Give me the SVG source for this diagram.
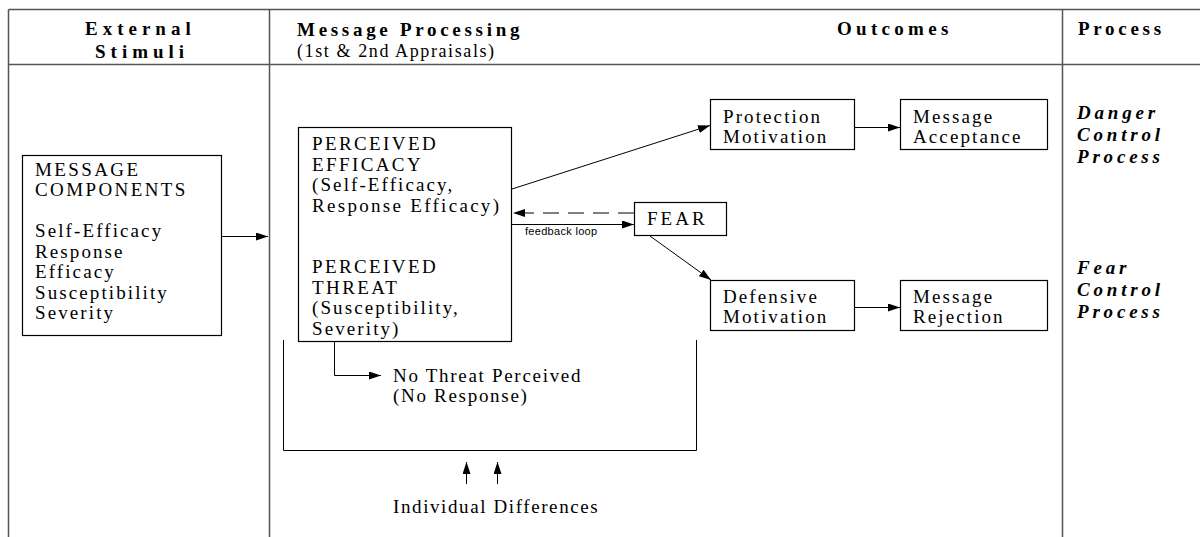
<svg xmlns="http://www.w3.org/2000/svg" width="1200" height="537" viewBox="0 0 1200 537">
<style>
text{font-family:"Liberation Serif","Times New Roman",serif;fill:#000}
.h{font-weight:bold;font-size:19px;letter-spacing:4px}
.sub{font-size:18px;letter-spacing:1.6px}
.t{font-size:19px;letter-spacing:2.1px}
.p{font-weight:bold;font-style:italic;font-size:19px;letter-spacing:3.8px}
.s{font-family:"Liberation Sans",Arial,sans-serif;font-size:11px;letter-spacing:0.3px}
.box{fill:#fff;stroke:#000;stroke-width:1.2}
.frame{stroke:#555;stroke-width:1.5;fill:none}
.c{stroke:#000;stroke-width:1;fill:none}
</style>
<defs>
<marker id="ah" viewBox="0 0 12 8" refX="12" refY="4" markerWidth="12" markerHeight="8" markerUnits="userSpaceOnUse" orient="auto">
<path d="M0,0 L12,4 L0,8 z" fill="#000"/>
</marker>
</defs>
<rect width="1200" height="537" fill="#fff"/>
<g id="frame" class="frame">
<line x1="8.5" y1="9.5" x2="1200" y2="9.5"/>
<line x1="8.5" y1="64.5" x2="1200" y2="64.5"/>
<line x1="8.5" y1="9.5" x2="8.5" y2="537"/>
<line x1="269.5" y1="9.5" x2="269.5" y2="537"/>
<line x1="1062.5" y1="9.5" x2="1062.5" y2="537"/>
</g>
<g id="headers">
<text class="h" x="85" y="35" style="letter-spacing:5px">External</text>
<text class="h" x="95" y="57.5" style="letter-spacing:5px">Stimuli</text>
<text class="h" x="297" y="35.5" style="letter-spacing:3.7px">Message Processing</text>
<text class="sub" x="297" y="56.5">(1st &amp; 2nd Appraisals)</text>
<text class="h" x="837" y="35" style="letter-spacing:4.3px">Outcomes</text>
<text class="h" x="1078" y="35" style="letter-spacing:3.7px">Process</text>
</g>
<g id="message-components">
<rect class="box" x="22.5" y="155.5" width="199" height="180"/>
<text class="t" x="35" y="175.5" style="letter-spacing:2.4px">MESSAGE</text>
<text class="t" x="35" y="196" style="letter-spacing:2.4px">COMPONENTS</text>
<text class="t" x="35" y="237">Self-Efficacy</text>
<text class="t" x="35" y="257.5">Response</text>
<text class="t" x="35" y="278">Efficacy</text>
<text class="t" x="35" y="298.5">Susceptibility</text>
<text class="t" x="35" y="319">Severity</text>
</g>
<g id="perceived">
<rect class="box" x="298.5" y="127.5" width="213" height="214"/>
<text class="t" x="312" y="150" style="letter-spacing:2.4px">PERCEIVED</text>
<text class="t" x="312" y="170.5" style="letter-spacing:2.4px">EFFICACY</text>
<text class="t" x="312" y="191">(Self-Efficacy,</text>
<text class="t" x="312" y="211.5" style="letter-spacing:2.3px">Response Efficacy)</text>
<text class="t" x="312" y="273" style="letter-spacing:2.4px">PERCEIVED</text>
<text class="t" x="312" y="293.5" style="letter-spacing:2.4px">THREAT</text>
<text class="t" x="312" y="314">(Susceptibility,</text>
<text class="t" x="312" y="334.5">Severity)</text>
</g>
<g id="fear">
<rect class="box" x="634.5" y="202.5" width="92" height="33"/>
<text class="t" x="647" y="224.5" style="letter-spacing:3px">FEAR</text>
</g>
<g id="protection-motivation">
<rect class="box" x="710.5" y="99.5" width="144" height="50"/>
<text class="t" x="723" y="122.5">Protection</text>
<text class="t" x="723" y="142.5">Motivation</text>
</g>
<g id="message-acceptance">
<rect class="box" x="900.5" y="99.5" width="147" height="50"/>
<text class="t" x="913" y="122.5">Message</text>
<text class="t" x="913" y="142.5">Acceptance</text>
</g>
<g id="defensive-motivation">
<rect class="box" x="710.5" y="280.5" width="144" height="50"/>
<text class="t" x="723" y="303">Defensive</text>
<text class="t" x="723" y="323">Motivation</text>
</g>
<g id="message-rejection">
<rect class="box" x="900.5" y="280.5" width="147" height="50"/>
<text class="t" x="913" y="303">Message</text>
<text class="t" x="913" y="323">Rejection</text>
</g>
<g id="no-threat">
<text class="t" x="393" y="381.5" style="letter-spacing:1.7px">No Threat Perceived</text>
<text class="t" x="393" y="401.5" style="letter-spacing:1.7px">(No Response)</text>
</g>
<g id="individual-differences">
<text class="t" x="393" y="512.5" style="letter-spacing:1.6px">Individual Differences</text>
</g>
<g id="process-labels">
<text class="p" x="1077" y="119">Danger</text>
<text class="p" x="1077" y="141">Control</text>
<text class="p" x="1077" y="163">Process</text>
<text class="p" x="1077" y="274">Fear</text>
<text class="p" x="1077" y="296">Control</text>
<text class="p" x="1077" y="318">Process</text>
</g>
<g id="connectors" class="c">
<line x1="222" y1="236.5" x2="268" y2="236.5" marker-end="url(#ah)"/>
<line x1="512" y1="189" x2="710" y2="125.5" marker-end="url(#ah)"/>
<line x1="855" y1="127.5" x2="900" y2="127.5" marker-end="url(#ah)"/>
<line x1="634" y1="213" x2="513" y2="213" stroke-dasharray="16,9" marker-end="url(#ah)"/>
<line x1="512" y1="224.5" x2="634" y2="224.5" marker-end="url(#ah)"/>
<line x1="650" y1="236" x2="711" y2="280" marker-end="url(#ah)"/>
<line x1="855" y1="307.5" x2="900" y2="307.5" marker-end="url(#ah)"/>
<polyline points="334.5,342 334.5,375.5 381,375.5" marker-end="url(#ah)"/>
<polyline points="283.5,340 283.5,450.5 696.5,450.5 696.5,340"/>
<line x1="466.5" y1="484" x2="466.5" y2="462" marker-end="url(#ah)"/>
<line x1="497.5" y1="484" x2="497.5" y2="462" marker-end="url(#ah)"/>
<text class="s" x="525" y="235" stroke="none">feedback loop</text>
</g>
</svg>
